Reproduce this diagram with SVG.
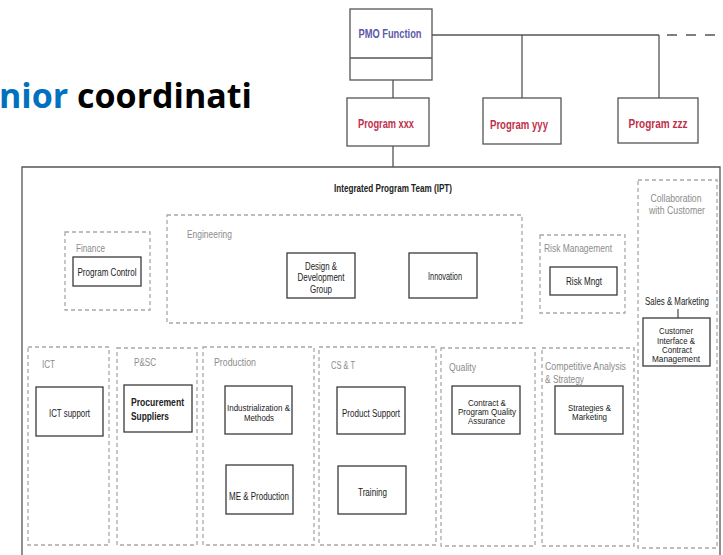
<svg xmlns="http://www.w3.org/2000/svg" width="723" height="555" viewBox="0 0 723 555">
  <defs>
    <style>
      .bg { fill: #ffffff; }
      .box { fill: #ffffff; stroke: #3a3a3a; stroke-width: 1.3; }
      .top { fill: #ffffff; stroke: #555555; stroke-width: 1.3; }
      .grp { fill: none; stroke: #a8a8a8; stroke-width: 1.3; stroke-dasharray: 4 3; }
      .line { fill: none; stroke: #555555; stroke-width: 1.3; }
      .dash { fill: none; stroke: #555555; stroke-width: 1.3; stroke-dasharray: 10 9; }
      .t { font-family: "Liberation Sans", Arial, sans-serif; font-size: 10.5px; fill: #222222; }
      .s { font-size: 9px; }
      .c { text-anchor: middle; }
      .g { fill: #8c8c8c; font-size: 11px; }
      .b { font-weight: bold; }
      .hd { font-family: "Liberation Sans", Arial, sans-serif; font-weight: bold; font-size: 12.5px; text-anchor: middle; }
      .title { font-family: "Open Sans", "Liberation Sans", sans-serif; font-weight: bold; font-size: 34px; }
    </style>
  </defs>

  <rect class="bg" x="0" y="0" width="723" height="555"/>

  <!-- heading fragment -->
  <text class="title" x="-1" y="108"><tspan fill="#0070c0">nior</tspan> <tspan fill="#000000">coordinati</tspan></text>

  <!-- connectors -->
  <g id="connectors">
    <path class="line" d="M432 35 H659 M522 35 V98 M659 35 V98 M393 80 V98 M393 146 V167"/>
    <path class="dash" d="M667 35 H723"/>
    <path class="line" d="M678 309 V318"/>
  </g>

  <!-- top level -->
  <g id="pmo">
    <rect class="top" x="350" y="9" width="82" height="71"/>
    <line class="line" x1="350" y1="58" x2="432" y2="58"/>
    <text class="hd" x="390" y="38" fill="#5a5aa8" textLength="63" lengthAdjust="spacingAndGlyphs">PMO Function</text>
  </g>
  <g id="program-xxx">
    <rect class="top" x="347" y="98" width="82" height="48"/>
    <text class="hd" x="386" y="128" fill="#c0304a" textLength="56" lengthAdjust="spacingAndGlyphs">Program xxx</text>
  </g>
  <g id="program-yyy">
    <rect class="top" x="483" y="98" width="78" height="46"/>
    <text class="hd" x="519" y="129" fill="#c0304a" textLength="58" lengthAdjust="spacingAndGlyphs">Program yyy</text>
  </g>
  <g id="program-zzz">
    <rect class="top" x="618" y="98" width="80" height="45"/>
    <text class="hd" x="658" y="128" fill="#c0304a" textLength="59" lengthAdjust="spacingAndGlyphs">Program zzz</text>
  </g>

  <!-- integrated program team -->
  <g id="ipt">
    <path class="line" d="M22 560 V167 H720 V560"/>
    <text class="t b c" x="393" y="192" fill="#333333" textLength="118" lengthAdjust="spacingAndGlyphs">Integrated Program Team (IPT)</text>
  </g>

  <g id="finance">
    <rect class="grp" x="65" y="232" width="85" height="78"/>
    <text class="t g" x="76" y="252" textLength="29" lengthAdjust="spacingAndGlyphs">Finance</text>
    <rect class="box" x="73" y="257" width="68" height="29"/>
    <text class="t c" x="107" y="275.5" textLength="59" lengthAdjust="spacingAndGlyphs">Program Control</text>
  </g>

  <g id="engineering">
    <rect class="grp" x="167" y="215" width="355" height="108"/>
    <text class="t g" x="187" y="237.5" textLength="45" lengthAdjust="spacingAndGlyphs">Engineering</text>
    <rect class="box" x="287" y="253" width="68" height="45"/>
    <text class="t c" x="321" y="269.5" textLength="32" lengthAdjust="spacingAndGlyphs">Design &amp;</text>
    <text class="t c" x="321" y="281" textLength="47" lengthAdjust="spacingAndGlyphs">Development</text>
    <text class="t c" x="321" y="292.5" textLength="22" lengthAdjust="spacingAndGlyphs">Group</text>
    <rect class="box" x="409" y="253" width="68" height="45"/>
    <text class="t c" x="445" y="279.5" textLength="34" lengthAdjust="spacingAndGlyphs">Innovation</text>
  </g>

  <g id="risk">
    <rect class="grp" x="540" y="235" width="85" height="78"/>
    <text class="t g" x="544" y="251.5" textLength="68" lengthAdjust="spacingAndGlyphs">Risk Management</text>
    <rect class="box" x="550" y="267" width="67" height="28"/>
    <text class="t c" x="584" y="284.5" textLength="36" lengthAdjust="spacingAndGlyphs">Risk Mngt</text>
  </g>

  <g id="collaboration">
    <rect class="grp" x="638" y="180" width="79" height="368"/>
    <text class="t g c" x="676" y="201.5" textLength="51" lengthAdjust="spacingAndGlyphs">Collaboration</text>
    <text class="t g c" x="677" y="213.5" textLength="56" lengthAdjust="spacingAndGlyphs">with Customer</text>
    <text class="t c" x="677" y="305" textLength="64" lengthAdjust="spacingAndGlyphs">Sales &amp; Marketing</text>
    <rect class="box" x="643" y="318" width="67" height="48"/>
    <text class="t s c" x="676" y="334" textLength="34" lengthAdjust="spacingAndGlyphs">Customer</text>
    <text class="t s c" x="676" y="343.5" textLength="38" lengthAdjust="spacingAndGlyphs">Interface &amp;</text>
    <text class="t s c" x="677" y="352.5" textLength="30" lengthAdjust="spacingAndGlyphs">Contract</text>
    <text class="t s c" x="676" y="361.5" textLength="48" lengthAdjust="spacingAndGlyphs">Management</text>
  </g>

  <g id="ict">
    <rect class="grp" x="28" y="347" width="81" height="198"/>
    <text class="t g" x="42" y="368" textLength="13" lengthAdjust="spacingAndGlyphs">ICT</text>
    <rect class="box" x="36" y="387" width="67" height="49"/>
    <text class="t c" x="69.5" y="416.5" textLength="41" lengthAdjust="spacingAndGlyphs">ICT support</text>
  </g>

  <g id="psc">
    <rect class="grp" x="117" y="348" width="80" height="197"/>
    <text class="t g" x="134" y="366" textLength="22" lengthAdjust="spacingAndGlyphs">P&amp;SC</text>
    <rect class="box" x="124" y="385" width="68" height="47"/>
    <text class="t b" x="131" y="406" font-size="11" textLength="53" lengthAdjust="spacingAndGlyphs">Procurement</text>
    <text class="t b" x="131" y="419.5" font-size="11" textLength="38" lengthAdjust="spacingAndGlyphs">Suppliers</text>
  </g>

  <g id="production">
    <rect class="grp" x="203" y="347" width="111" height="198"/>
    <text class="t g" x="214" y="366" textLength="42" lengthAdjust="spacingAndGlyphs">Production</text>
    <rect class="box" x="225" y="386" width="67" height="48"/>
    <text class="t s c" x="258.5" y="411" textLength="63" lengthAdjust="spacingAndGlyphs">Industrialization &amp;</text>
    <text class="t s c" x="259" y="420.5" textLength="30" lengthAdjust="spacingAndGlyphs">Methods</text>
    <rect class="box" x="226" y="465" width="67" height="49"/>
    <text class="t c" x="259" y="499.5" textLength="60" lengthAdjust="spacingAndGlyphs">ME &amp; Production</text>
  </g>

  <g id="cst">
    <rect class="grp" x="319" y="347" width="117" height="198"/>
    <text class="t g" x="331" y="368.5" textLength="24" lengthAdjust="spacingAndGlyphs">CS &amp; T</text>
    <rect class="box" x="337" y="387" width="68" height="47"/>
    <text class="t c" x="371" y="416.5" textLength="58" lengthAdjust="spacingAndGlyphs">Product Support</text>
    <rect class="box" x="338" y="466" width="68" height="48"/>
    <text class="t c" x="372.5" y="495.5" textLength="29" lengthAdjust="spacingAndGlyphs">Training</text>
  </g>

  <g id="quality">
    <rect class="grp" x="441" y="348" width="94" height="198"/>
    <text class="t g" x="449" y="371" textLength="27" lengthAdjust="spacingAndGlyphs">Quality</text>
    <rect class="box" x="452" y="386" width="68" height="48"/>
    <text class="t s c" x="487" y="406" textLength="38" lengthAdjust="spacingAndGlyphs">Contract &amp;</text>
    <text class="t s c" x="487" y="415" textLength="58" lengthAdjust="spacingAndGlyphs">Program Quality</text>
    <text class="t s c" x="486.5" y="424" textLength="37" lengthAdjust="spacingAndGlyphs">Assurance</text>
  </g>

  <g id="competitive">
    <rect class="grp" x="542" y="348" width="92" height="198"/>
    <text class="t g" x="545" y="370" textLength="81" lengthAdjust="spacingAndGlyphs">Competitive Analysis</text>
    <text class="t g" x="545" y="382.5" textLength="39" lengthAdjust="spacingAndGlyphs">&amp; Strategy</text>
    <rect class="box" x="555" y="386" width="68" height="48"/>
    <text class="t s c" x="589.5" y="410.5" textLength="43" lengthAdjust="spacingAndGlyphs">Strategies &amp;</text>
    <text class="t s c" x="589.5" y="419.5" textLength="35" lengthAdjust="spacingAndGlyphs">Marketing</text>
  </g>
</svg>
